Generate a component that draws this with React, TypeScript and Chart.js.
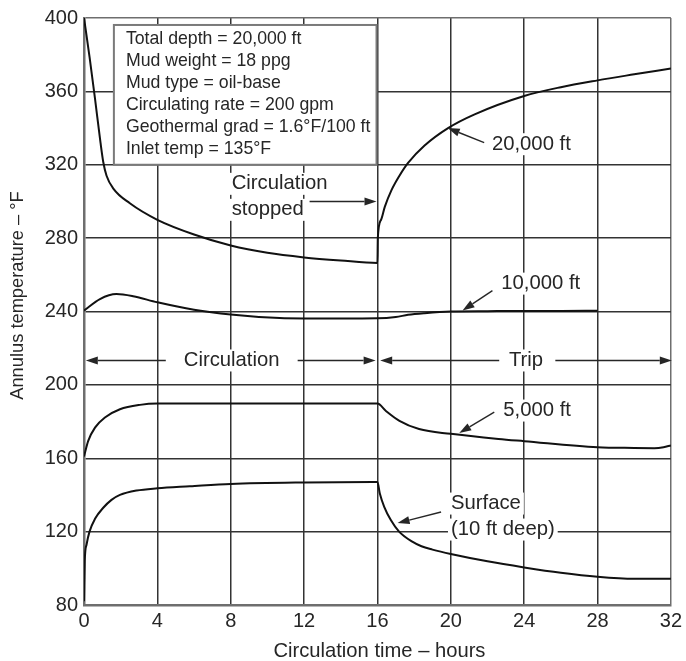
import React, { useEffect, useRef } from "react";
import { Chart, registerables } from "chart.js";

Chart.register(...registerables);

// Annulus temperature (°F) versus circulation time (hours) at four depths.
const hours20000 = [0, 0.3, 0.6, 0.9, 1.05, 1.23, 1.6, 2.5, 4, 6, 8, 10, 12, 14, 16, 16.02, 16.2, 16.4, 16.76, 17.2, 17.67, 18.57, 19.85, 21.3, 24, 26, 28, 30, 32];
const temp20000 = [400, 379, 356, 332, 321.5, 314, 307, 299, 290, 282, 276, 272, 269.5, 267.8, 266.5, 280, 290, 297, 306, 314, 321, 330.5, 340, 347.5, 357.5, 362.3, 366, 369.3, 372.5];

const hours10000 = [0, 0.87, 1.77, 2.68, 4, 6, 8, 10.67, 12, 14, 16, 17, 17.67, 18.57, 20, 22, 24, 26, 28];
const temp10000 = [240.5, 246.8, 249.5, 248.3, 245, 241, 238.4, 236.4, 236.2, 236.2, 236.3, 237, 238.2, 239.1, 240, 240.2, 240.3, 240.3, 240.4];

const hours5000 = [0, 0.23, 0.6, 1.14, 1.96, 3.05, 4, 8, 12, 16, 16.45, 17.2, 18.27, 20, 22.6, 24, 28, 30, 31.1, 31.6, 32];
const temp5000 = [161, 169.5, 176.7, 182.2, 186.7, 189.1, 189.8, 189.8, 189.8, 189.8, 185.9, 180.4, 175.9, 173.3, 170.5, 169.3, 166, 165.6, 165.5, 166, 167];

const hoursSurface = [0, 0.04, 0.14, 0.3, 0.6, 1.05, 1.5, 1.96, 2.87, 4, 5.77, 8, 12, 16, 16.13, 16.37, 16.73, 17.18, 17.9, 18.4, 19, 20, 22, 24, 26, 28, 30, 32];
const tempSurface = [82, 104, 113, 120, 127, 133, 137.3, 140, 142.4, 143.6, 144.7, 146, 146.8, 147, 140.8, 133.5, 126.3, 120, 114.5, 112, 110.2, 107.8, 103.8, 100.5, 97.6, 95.4, 94.3, 94.3];

const xTickValues = [0, 4, 8, 12, 16, 20, 24, 28, 32];
const yTickValues = [80, 120, 160, 200, 240, 280, 320, 360, 400];

const infoLines = [
  "Total depth = 20,000 ft",
  "Mud weight = 18 ppg",
  "Mud type = oil-base",
  "Circulating rate = 200 gpm",
  "Geothermal grad = 1.6°F/100 ft",
  "Inlet temp = 135°F",
];

const FONT = "'Liberation Sans', Arial, Helvetica, sans-serif";
const INK = "#262626";

type Pt = [number, number];

// Depth labels with leader arrows (in hours / °F)
const depthLabels: { lines: string[]; at: Pt; from: Pt; to: Pt }[] = [
  { lines: ["20,000 ft"], at: [22.24, 331.2], from: [21.82, 332.1], to: [19.83, 340] },
  { lines: ["10,000 ft"], at: [22.75, 255.2], from: [22.27, 251.4], to: [20.64, 240.5] },
  { lines: ["5,000 ft"], at: [22.86, 186], from: [22.37, 185.1], to: [20.46, 173.8] },
  { lines: ["Surface", "(10 ft deep)"], at: [20.01, 135.3], from: [19.47, 130.7], to: [17.1, 124.7] },
  { lines: ["Circulation", "stopped"], at: [8.05, 309.6], from: [12.3, 300], to: [15.95, 300] },
];

// Phase spans drawn as double-ended arrows around a centred caption
const phases = [
  { text: "Circulation", center: 8.05, start: 0.1, end: 15.9, gapLeft: 4.46, gapRight: 11.65 },
  { text: "Trip", center: 24.1, start: 16.15, end: 32.05, gapLeft: 22.64, gapRight: 25.7 },
];
const phaseTemp = 213.3;

function drawArrow(ctx: CanvasRenderingContext2D, x1: number, y1: number, x2: number, y2: number) {
  const ang = Math.atan2(y2 - y1, x2 - x1);
  const len = 12;
  const half = 4;
  const bx = x2 - len * Math.cos(ang);
  const by = y2 - len * Math.sin(ang);
  ctx.beginPath();
  ctx.moveTo(x1, y1);
  ctx.lineTo(bx, by);
  ctx.stroke();
  ctx.beginPath();
  ctx.moveTo(x2, y2);
  ctx.lineTo(bx + half * Math.sin(ang), by - half * Math.cos(ang));
  ctx.lineTo(bx - half * Math.sin(ang), by + half * Math.cos(ang));
  ctx.closePath();
  ctx.fill();
}

function textWithBackground(ctx: CanvasRenderingContext2D, text: string, x: number, y: number, align: CanvasTextAlign) {
  ctx.textAlign = align;
  ctx.textBaseline = "middle";
  const w = ctx.measureText(text).width;
  const left = align === "center" ? x - w / 2 : x;
  ctx.fillStyle = "#fff";
  ctx.fillRect(left - 3, y - 11, w + 6, 22);
  ctx.fillStyle = INK;
  ctx.fillText(text, x, y);
}

const notesPlugin = {
  id: "notes",
  beforeDatasetsDraw(chart: any) {
    const { ctx, scales, chartArea } = chart;
    const xs = scales.x;
    const ys = scales.y;
    ctx.save();

    // Operating conditions box
    const bl = xs.getPixelForValue(1.63);
    const br = xs.getPixelForValue(15.95);
    const bt = ys.getPixelForValue(396.2);
    const bb = ys.getPixelForValue(320);
    ctx.fillStyle = "#fff";
    ctx.fillRect(bl, bt, br - bl, bb - bt);
    ctx.strokeStyle = "#7a7a7a";
    ctx.lineWidth = 2;
    ctx.strokeRect(bl, bt, br - bl, bb - bt);
    ctx.font = `17.7px ${FONT}`;
    ctx.fillStyle = INK;
    ctx.textAlign = "left";
    ctx.textBaseline = "middle";
    infoLines.forEach((line, i) => {
      ctx.fillText(line, bl + 12, bt + 14.5 + i * 22);
    });

    // Depth labels
    ctx.font = `20.3px ${FONT}`;
    depthLabels.forEach((lab) => {
      const x = xs.getPixelForValue(lab.at[0]);
      const y = ys.getPixelForValue(lab.at[1]);
      lab.lines.forEach((line, i) => textWithBackground(ctx, line, x, y + i * 26, "left"));
    });

    // Phase captions
    phases.forEach((p) => {
      textWithBackground(ctx, p.text, xs.getPixelForValue(p.center), ys.getPixelForValue(phaseTemp), "center");
    });

    // Axis titles
    ctx.fillStyle = INK;
    ctx.textAlign = "center";
    ctx.textBaseline = "middle";
    ctx.font = `20.2px ${FONT}`;
    ctx.fillText("Circulation time – hours", (chartArea.left + chartArea.right) / 2 + 2, chart.height - 10);
    ctx.font = `18.3px ${FONT}`;
    ctx.translate(18, (chartArea.top + chartArea.bottom) / 2 - 16);
    ctx.rotate(-Math.PI / 2);
    ctx.fillText("Annulus temperature – °F", 0, 0);
    ctx.restore();
  },
  afterDatasetsDraw(chart: any) {
    const { ctx, scales } = chart;
    const xs = scales.x;
    const ys = scales.y;
    ctx.save();
    ctx.strokeStyle = INK;
    ctx.fillStyle = INK;
    ctx.lineWidth = 1.4;
    depthLabels.forEach((lab) => {
      drawArrow(
        ctx,
        xs.getPixelForValue(lab.from[0]),
        ys.getPixelForValue(lab.from[1]),
        xs.getPixelForValue(lab.to[0]),
        ys.getPixelForValue(lab.to[1])
      );
    });
    const py = ys.getPixelForValue(phaseTemp);
    phases.forEach((p) => {
      drawArrow(ctx, xs.getPixelForValue(p.gapLeft), py, xs.getPixelForValue(p.start), py);
      drawArrow(ctx, xs.getPixelForValue(p.gapRight), py, xs.getPixelForValue(p.end), py);
    });
    ctx.restore();
  },
};

function series(hours: number[], temps: number[]) {
  return hours.map((h, i) => ({ x: h, y: temps[i] }));
}

export default function App() {
  const canvasRef = useRef<HTMLCanvasElement | null>(null);

  useEffect(() => {
    document.body.style.margin = "0";
    const canvas = canvasRef.current;
    if (!canvas) return;

    const line = (label: string, data: { x: number; y: number }[]) => ({
      label,
      data,
      borderColor: "#111",
      borderWidth: 2,
      pointRadius: 0,
      fill: false,
      cubicInterpolationMode: "monotone" as const,
    });

    const gridColor = (ctx: any) => {
      const v = ctx.tick && ctx.tick.value;
      return v === 32 || v === 400 ? "#6e6e6e" : "#333";
    };

    const tickFont = { family: FONT, size: 20 };

    const chart = new Chart(canvas, {
      type: "line",
      data: {
        datasets: [
          line("20,000 ft", series(hours20000, temp20000)),
          line("10,000 ft", series(hours10000, temp10000)),
          line("5,000 ft", series(hours5000, temp5000)),
          line("Surface", series(hoursSurface, tempSurface)),
        ],
      },
      options: {
        animation: false,
        responsive: false,
        maintainAspectRatio: false,
        events: [],
        layout: { padding: { top: 17, right: 13, left: 0, bottom: 0 } },
        plugins: { legend: { display: false }, tooltip: { enabled: false } },
        scales: {
          x: {
            type: "linear",
            min: 0,
            max: 32,
            afterBuildTicks: (s: any) => {
              s.ticks = xTickValues.map((v) => ({ value: v }));
            },
            afterFit: (s: any) => {
              s.height = 56;
            },
            ticks: { color: INK, font: tickFont, padding: 4, maxRotation: 0, autoSkip: false },
            grid: { drawTicks: false, color: gridColor, lineWidth: 1.5 },
            border: { display: true, color: "#6e6e6e", width: 2.5 },
          },
          y: {
            type: "linear",
            min: 80,
            max: 400,
            afterBuildTicks: (s: any) => {
              s.ticks = yTickValues.map((v) => ({ value: v }));
            },
            afterFit: (s: any) => {
              s.width = 84;
            },
            ticks: { color: INK, font: tickFont, padding: 6, autoSkip: false },
            grid: { drawTicks: false, color: gridColor, lineWidth: 1.5 },
            border: { display: true, color: "#6e6e6e", width: 2.5 },
          },
        },
      },
      plugins: [notesPlugin],
    });

    return () => chart.destroy();
  }, []);

  return (
    <div style={{ width: 686, height: 661, background: "#fff" }}>
      <canvas ref={canvasRef} width={686} height={661} style={{ display: "block" }} />
    </div>
  );
}
